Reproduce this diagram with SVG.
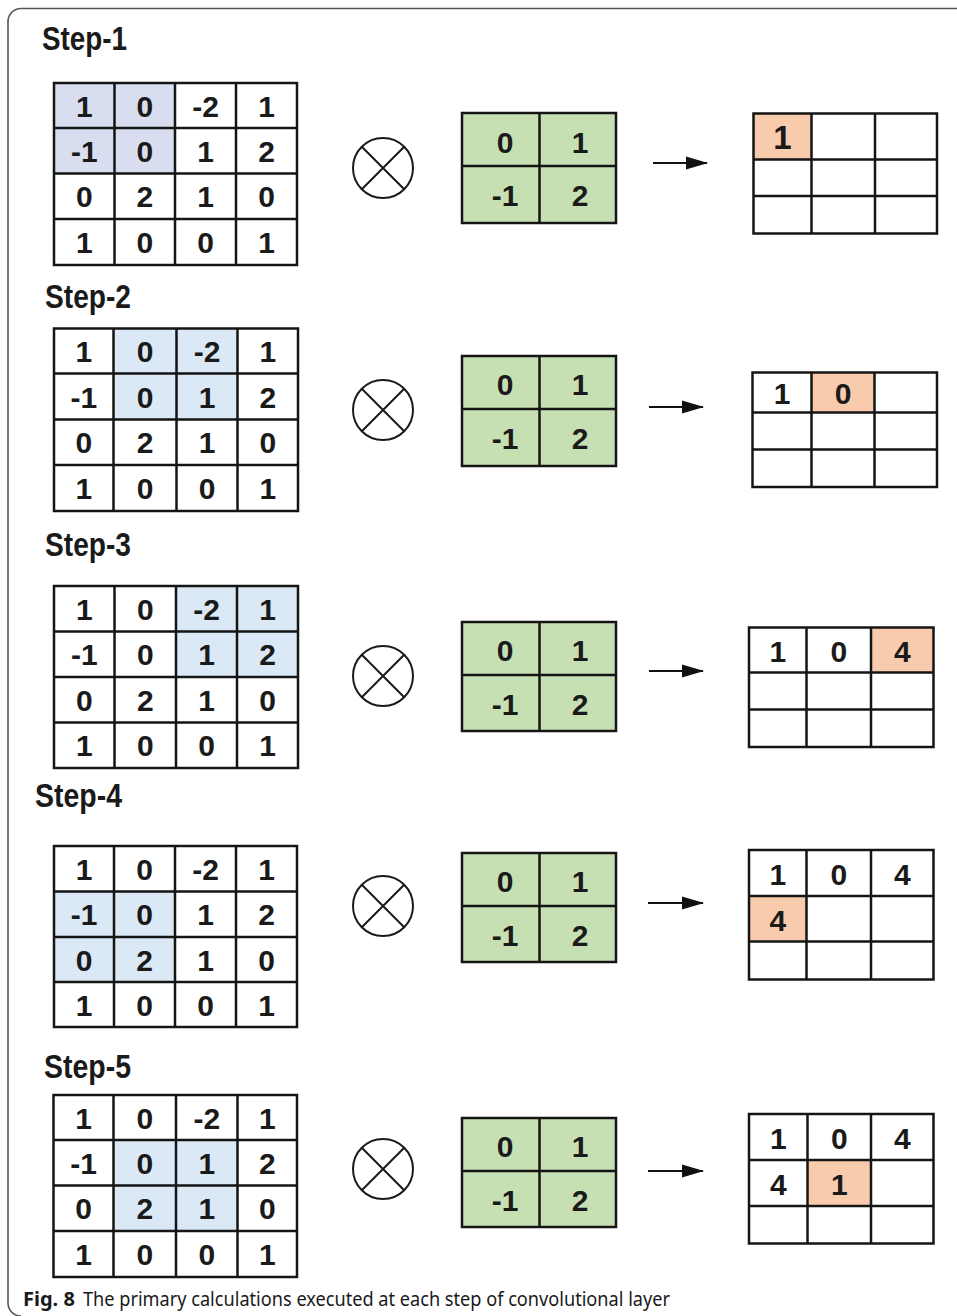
<svg xmlns="http://www.w3.org/2000/svg" width="957" height="1316" viewBox="0 0 957 1316">
<defs>
<style>
.g{fill:none;stroke:#151515;stroke-width:2.5}
.gi{stroke:#151515;stroke-width:2.5}
.n{font-family:"Liberation Sans",Arial,sans-serif;font-weight:bold;font-size:30px;fill:#1a1a1a;text-anchor:middle}
.lab{font-family:"Liberation Sans Narrow","Liberation Sans",Arial,sans-serif;font-weight:bold;font-size:34px;fill:#1a1a1a}
.h1{fill:#d9ddf0}
.h{fill:#dbe8f5}
.k{fill:#c6e0b4}
.o{fill:#f8cbad}
.op{fill:none;stroke:#1a1a1a;stroke-width:2}
.ar{stroke:#111;stroke-width:2;fill:none}
.cap{font-family:"Noto Sans","Open Sans",sans-serif;font-size:20px;fill:#1a1a1a}
</style>
<marker id="ah" markerUnits="userSpaceOnUse" markerWidth="22" markerHeight="14" refX="21" refY="7" orient="auto"><path d="M0,0.5 L22,7 L0,13.5 z" fill="#111"/></marker>
</defs>
<rect width="957" height="1316" fill="#fff"/>
<path d="M957 8.5 H21 A13 13 0 0 0 8 21.5 V1303 A13 13 0 0 0 21 1316" fill="none" stroke="#555" stroke-width="1.6"/>

<!-- Step 1 -->
<g id="step1-label"><text class="lab" x="42" y="50" textLength="85" lengthAdjust="spacingAndGlyphs">Step-1</text></g>
<g id="step1-input">
<rect class="h1" x="54" y="83" width="121" height="90.5"/>
<rect class="g" x="54" y="83" width="243" height="182"/>
<path class="gi" d="M114.5 83V265M175 83V265M236 83V265M54 128H297M54 173.5H297M54 219H297"/>
<text class="n" x="84.3" y="116.5">1</text><text class="n" x="144.8" y="116.5">0</text><text class="n" x="205.5" y="116.5">-2</text><text class="n" x="266.5" y="116.5">1</text>
<text class="n" x="84.3" y="161.8">-1</text><text class="n" x="144.8" y="161.8">0</text><text class="n" x="205.5" y="161.8">1</text><text class="n" x="266.5" y="161.8">2</text>
<text class="n" x="84.3" y="207.3">0</text><text class="n" x="144.8" y="207.3">2</text><text class="n" x="205.5" y="207.3">1</text><text class="n" x="266.5" y="207.3">0</text>
<text class="n" x="84.3" y="253">1</text><text class="n" x="144.8" y="253">0</text><text class="n" x="205.5" y="253">0</text><text class="n" x="266.5" y="253">1</text>
</g>
<g id="step1-op"><circle class="op" cx="383" cy="168" r="30"/><path class="op" d="M361.8 146.8L404.2 189.2M404.2 146.8L361.8 189.2"/></g>
<g id="step1-kernel">
<rect class="k" x="462" y="113" width="154" height="110"/>
<rect class="g" x="462" y="113" width="154" height="110"/>
<path class="gi" d="M539.5 113V223M462 166H616"/>
<text class="n" x="505" y="153">0</text><text class="n" x="580" y="153">1</text>
<text class="n" x="505" y="206">-1</text><text class="n" x="580" y="206">2</text>
</g>
<g id="step1-output">
<rect class="o" x="753.5" y="113.5" width="58" height="46"/>
<rect class="g" x="753.5" y="113.5" width="183.5" height="120"/>
<path class="gi" d="M811.5 113.5V233.5M875 113.5V233.5M753.5 159.5H937M753.5 196H937"/>
<text class="n" x="782.5" y="148.5" style="font-size:33px">1</text>
</g>

<!-- Step 2 -->
<g id="step2-label"><text class="lab" x="45" y="308" textLength="86" lengthAdjust="spacingAndGlyphs">Step-2</text></g>
<g id="step2-input">
<rect class="h" x="113.5" y="328.5" width="124" height="91"/>
<rect class="g" x="54" y="328.5" width="244" height="182.5"/>
<path class="gi" d="M113.5 328.5V511M176.5 328.5V511M237.5 328.5V511M54 373.5H298M54 419.5H298M54 465H298"/>
<text class="n" x="83.8" y="362">1</text><text class="n" x="145" y="362">0</text><text class="n" x="207" y="362">-2</text><text class="n" x="267.8" y="362">1</text>
<text class="n" x="83.8" y="407.5">-1</text><text class="n" x="145" y="407.5">0</text><text class="n" x="207" y="407.5">1</text><text class="n" x="267.8" y="407.5">2</text>
<text class="n" x="83.8" y="453.3">0</text><text class="n" x="145" y="453.3">2</text><text class="n" x="207" y="453.3">1</text><text class="n" x="267.8" y="453.3">0</text>
<text class="n" x="83.8" y="499">1</text><text class="n" x="145" y="499">0</text><text class="n" x="207" y="499">0</text><text class="n" x="267.8" y="499">1</text>
</g>
<g id="step2-op"><circle class="op" cx="383" cy="410" r="30"/><path class="op" d="M361.8 388.8L404.2 431.2M404.2 388.8L361.8 431.2"/></g>
<g id="step2-kernel">
<rect class="k" x="462" y="356" width="154" height="110"/>
<rect class="g" x="462" y="356" width="154" height="110"/>
<path class="gi" d="M539.5 356V466M462 409H616"/>
<text class="n" x="505" y="395">0</text><text class="n" x="580" y="395">1</text>
<text class="n" x="505" y="449">-1</text><text class="n" x="580" y="449">2</text>
</g>
<g id="step2-output">
<rect class="o" x="811.5" y="372.5" width="63" height="40"/>
<rect class="g" x="752.5" y="372.5" width="184.5" height="114.5"/>
<path class="gi" d="M811.5 372.5V487M874.5 372.5V487M752.5 412.5H937M752.5 449.5H937"/>
<text class="n" x="782" y="404">1</text><text class="n" x="843" y="404">0</text>
</g>

<!-- Step 3 -->
<g id="step3-label"><text class="lab" x="45" y="556" textLength="86" lengthAdjust="spacingAndGlyphs">Step-3</text></g>
<g id="step3-input">
<rect class="h" x="176" y="586" width="122" height="91"/>
<rect class="g" x="54" y="586" width="244" height="182"/>
<path class="gi" d="M114.5 586V768M176 586V768M237 586V768M54 631.5H298M54 677H298M54 722.5H298"/>
<text class="n" x="84.3" y="619.8">1</text><text class="n" x="145.3" y="619.8">0</text><text class="n" x="206.5" y="619.8">-2</text><text class="n" x="267.5" y="619.8">1</text>
<text class="n" x="84.3" y="665.3">-1</text><text class="n" x="145.3" y="665.3">0</text><text class="n" x="206.5" y="665.3">1</text><text class="n" x="267.5" y="665.3">2</text>
<text class="n" x="84.3" y="710.8">0</text><text class="n" x="145.3" y="710.8">2</text><text class="n" x="206.5" y="710.8">1</text><text class="n" x="267.5" y="710.8">0</text>
<text class="n" x="84.3" y="756.3">1</text><text class="n" x="145.3" y="756.3">0</text><text class="n" x="206.5" y="756.3">0</text><text class="n" x="267.5" y="756.3">1</text>
</g>
<g id="step3-op"><circle class="op" cx="383" cy="676" r="30"/><path class="op" d="M361.8 654.8L404.2 697.2M404.2 654.8L361.8 697.2"/></g>
<g id="step3-kernel">
<rect class="k" x="462" y="622" width="154" height="109"/>
<rect class="g" x="462" y="622" width="154" height="109"/>
<path class="gi" d="M539.5 622V731M462 675H616"/>
<text class="n" x="505" y="661">0</text><text class="n" x="580" y="661">1</text>
<text class="n" x="505" y="715">-1</text><text class="n" x="580" y="715">2</text>
</g>
<g id="step3-output">
<rect class="o" x="871" y="627.5" width="62.5" height="45"/>
<rect class="g" x="749" y="627.5" width="184.5" height="119.5"/>
<path class="gi" d="M806.5 627.5V747M871 627.5V747M749 672.5H933.5M749 709.5H933.5"/>
<text class="n" x="777.8" y="662">1</text><text class="n" x="838.8" y="662">0</text><text class="n" x="902.3" y="662">4</text>
</g>

<!-- Step 4 -->
<g id="step4-label"><text class="lab" x="35" y="807" textLength="87" lengthAdjust="spacingAndGlyphs">Step-4</text></g>
<g id="step4-input">
<rect class="h" x="54" y="891.5" width="121" height="90.5"/>
<rect class="g" x="54" y="846" width="243" height="181"/>
<path class="gi" d="M114 846V1027M175 846V1027M236 846V1027M54 891.5H297M54 937H297M54 982H297"/>
<text class="n" x="84" y="879.8">1</text><text class="n" x="144.5" y="879.8">0</text><text class="n" x="205.5" y="879.8">-2</text><text class="n" x="266.5" y="879.8">1</text>
<text class="n" x="84" y="925.3">-1</text><text class="n" x="144.5" y="925.3">0</text><text class="n" x="205.5" y="925.3">1</text><text class="n" x="266.5" y="925.3">2</text>
<text class="n" x="84" y="970.5">0</text><text class="n" x="144.5" y="970.5">2</text><text class="n" x="205.5" y="970.5">1</text><text class="n" x="266.5" y="970.5">0</text>
<text class="n" x="84" y="1015.5">1</text><text class="n" x="144.5" y="1015.5">0</text><text class="n" x="205.5" y="1015.5">0</text><text class="n" x="266.5" y="1015.5">1</text>
</g>
<g id="step4-op"><circle class="op" cx="383" cy="906" r="30"/><path class="op" d="M361.8 884.8L404.2 927.2M404.2 884.8L361.8 927.2"/></g>
<g id="step4-kernel">
<rect class="k" x="462" y="853" width="154" height="109"/>
<rect class="g" x="462" y="853" width="154" height="109"/>
<path class="gi" d="M539.5 853V962M462 906H616"/>
<text class="n" x="505" y="892">0</text><text class="n" x="580" y="892">1</text>
<text class="n" x="505" y="946">-1</text><text class="n" x="580" y="946">2</text>
</g>
<g id="step4-output">
<rect class="o" x="749" y="896" width="57.5" height="45.5"/>
<rect class="g" x="749" y="850" width="184.5" height="129.5"/>
<path class="gi" d="M806.5 850V979.5M871 850V979.5M749 896H933.5M749 941.5H933.5"/>
<text class="n" x="777.8" y="885">1</text><text class="n" x="838.8" y="885">0</text><text class="n" x="902.3" y="885">4</text>
<text class="n" x="777.8" y="930.5">4</text>
</g>

<!-- Step 5 -->
<g id="step5-label"><text class="lab" x="44" y="1078" textLength="87" lengthAdjust="spacingAndGlyphs">Step-5</text></g>
<g id="step5-input">
<rect class="h" x="113.5" y="1140" width="124" height="91"/>
<rect class="g" x="53.5" y="1095" width="243.5" height="182"/>
<path class="gi" d="M113.5 1095V1277M176 1095V1277M237.5 1095V1277M53.5 1140H297M53.5 1185.5H297M53.5 1231H297"/>
<text class="n" x="83.5" y="1128.5">1</text><text class="n" x="144.8" y="1128.5">0</text><text class="n" x="206.8" y="1128.5">-2</text><text class="n" x="267.3" y="1128.5">1</text>
<text class="n" x="83.5" y="1173.8">-1</text><text class="n" x="144.8" y="1173.8">0</text><text class="n" x="206.8" y="1173.8">1</text><text class="n" x="267.3" y="1173.8">2</text>
<text class="n" x="83.5" y="1219.3">0</text><text class="n" x="144.8" y="1219.3">2</text><text class="n" x="206.8" y="1219.3">1</text><text class="n" x="267.3" y="1219.3">0</text>
<text class="n" x="83.5" y="1265">1</text><text class="n" x="144.8" y="1265">0</text><text class="n" x="206.8" y="1265">0</text><text class="n" x="267.3" y="1265">1</text>
</g>
<g id="step5-op"><circle class="op" cx="383" cy="1169" r="30"/><path class="op" d="M361.8 1147.8L404.2 1190.2M404.2 1147.8L361.8 1190.2"/></g>
<g id="step5-kernel">
<rect class="k" x="462" y="1118" width="154" height="109"/>
<rect class="g" x="462" y="1118" width="154" height="109"/>
<path class="gi" d="M539.5 1118V1227M462 1171H616"/>
<text class="n" x="505" y="1157">0</text><text class="n" x="580" y="1157">1</text>
<text class="n" x="505" y="1211">-1</text><text class="n" x="580" y="1211">2</text>
</g>
<g id="step5-output">
<rect class="o" x="807.5" y="1160" width="63.5" height="46"/>
<rect class="g" x="749" y="1114" width="184.5" height="129.5"/>
<path class="gi" d="M807.5 1114V1243.5M871 1114V1243.5M749 1160H933.5M749 1206H933.5"/>
<text class="n" x="778.3" y="1149">1</text><text class="n" x="839.3" y="1149">0</text><text class="n" x="902.3" y="1149">4</text>
<text class="n" x="778.3" y="1195">4</text><text class="n" x="839.3" y="1195">1</text>
</g>

<g id="connectors">
<line class="ar" x1="653" y1="163" x2="707" y2="163" marker-end="url(#ah)"/>
<line class="ar" x1="649" y1="407" x2="703" y2="407" marker-end="url(#ah)"/>
<line class="ar" x1="649" y1="671" x2="703" y2="671" marker-end="url(#ah)"/>
<line class="ar" x1="648" y1="903" x2="703" y2="903" marker-end="url(#ah)"/>
<line class="ar" x1="648" y1="1171" x2="703" y2="1171" marker-end="url(#ah)"/>
</g>

<g id="caption">
<text class="cap" x="23" y="1306" style="font-weight:bold">Fig. 8</text>
<text class="cap" x="83" y="1306" textLength="587" lengthAdjust="spacingAndGlyphs">The primary calculations executed at each step of convolutional layer</text>
</g>
</svg>
